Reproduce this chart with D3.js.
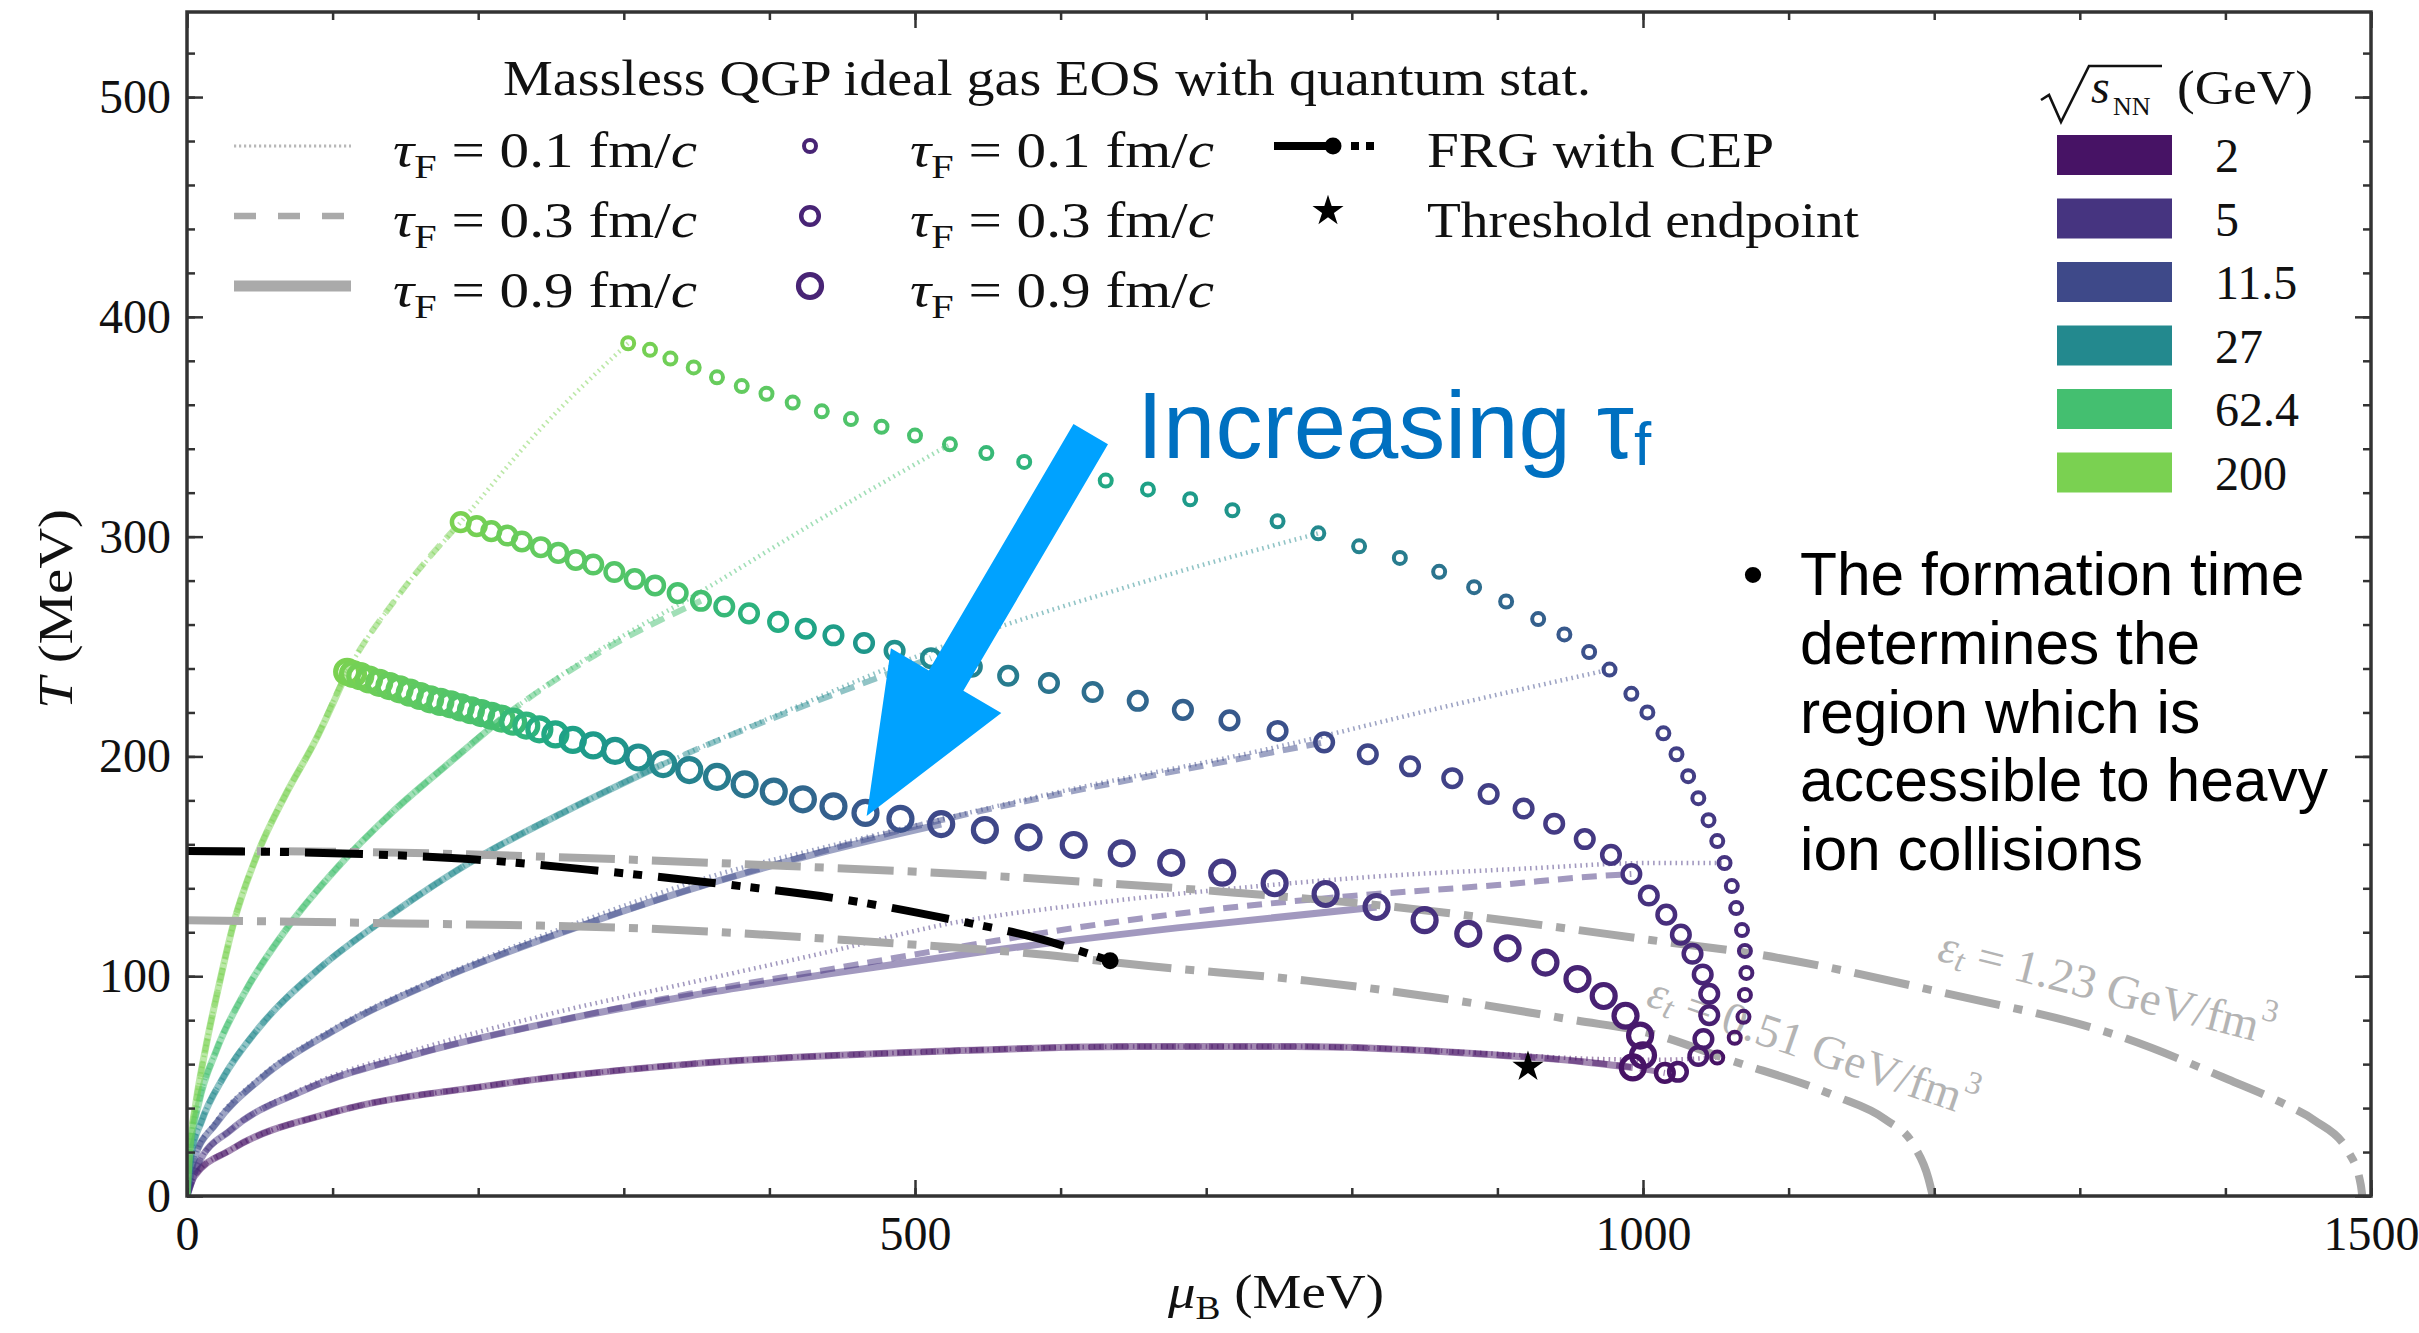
<!DOCTYPE html>
<html><head><meta charset="utf-8">
<script src="https://cdn.jsdelivr.net/npm/d3@7"></script>
<style>html,body{margin:0;padding:0;background:#fff;} svg{display:block;}</style>
</head><body>
<svg id="chart" width="2419" height="1333"></svg>
<script>
// ---------------- DATA ----------------
const energies = ["2", "5", "11.5", "27", "62.4", "200"];
const tauValues = ["0.1", "0.3", "0.9"];
const xTicks = [0, 500, 1000, 1500];
const yTicks = [0, 100, 200, 300, 400, 500];

// formation points (muB MeV, T MeV) for each formation time
const markersTau01 = [[303,388],[318,385],[332,381],[348,377],[364,372.5],[381,368.5],[398,365],[416,361],[436,357],[456,353.5],[477,350],[500,346],[524,342],[549,338],[575,334],[602,330],[631,325.5],[660,321.5],[689,317],[718,312],[749,307],[777,301.5],[805,295.6],[833,290.3],[860,284],[884,277],[906,270.5],[928,262.5],[946,255.5],[963,247.5],[977,239.5],[992,228.5],[1003,220],[1014,210.5],[1023,201],[1031,191],[1038,181],[1045,171],[1051,161.5],[1056,151.5],[1061,141],[1064,131],[1068,121],[1070,111.5],[1071,101.5],[1070,91.5],[1069,81.5],[1063,72],[1051,63]];
const markersTau03 = [[188,306.6],[199,304.8],[209,302.5],[220,300.5],[230,297.8],[243,295.2],[255,292.6],[267,289.4],[279,287.3],[293.5,283.9],[307.5,280.7],[321.5,277.8],[337,274.3],[353,270.8],[369,268.2],[386,265.1],[406,261.2],[425,258.1],[444,255.1],[465,251.6],[486,248.1],[511,244.7],[539,240.8],[564,236.7],[592,233.4],[622,229.3],[653,225.3],[684,221.2],[716,216.4],[749,211.6],[781,206.4],[811,201],[840,195.5],[869,190.1],[894,182.9],[918,176.3],[939,169.4],[960,162.4],[978,155.2],[992,146.5],[1004,136.7],[1016,128],[1026,118.9],[1034,110.2],[1041,100.8],[1045.5,92],[1045.5,82.3],[1041.5,71.4],[1038,63.7],[1024,56.5],[1015,56]];
const markersTau09 = [[110,238.5],[114,237.5],[119,236.5],[125,235],[132,233.5],[139,232],[146,230.5],[153,229],[160,227.5],[167,226],[174,224.8],[181,223.7],[188,222.3],[195,221],[202,219.7],[209,218.5],[216,217.2],[224,215.8],[233,214],[242,212.3],[253,210],[265,207.5],[279,205],[294,202.5],[310,199.5],[327,196.5],[345,193.8],[364,190.7],[383,187.3],[403,184],[423,180.5],[444,177.3],[466,174.3],[490,171.6],[518,169.2],[548,166.5],[578,163.2],[609,159.7],[642,155.9],[676,151.6],[711,147.1],[747,142.3],[782,137.4],[817,131.5],[850,125.5],[880,119.3],[907,112.7],[933,106.2],[955,98.7],[973,91],[988,82],[998,73],[1000,64],[993,58.5]];

// trajectories, one per energy (order of `energies`)
const trajTau09 = [
  [[0,0],[5,9],[30,21],[100,38],[205,50],[345,60],[524,66],[650,68],[760,68],[892,64.5],[960,61],[993,58.5]],
  [[0,0],[8,15],[30,30],[80,48],[160,65],[250,79],[345,91],[440,101],[545,111],[680,122],[817,131.5]],
  [[0,0],[5,17],[20,33],[50,53],[100,75],[175,99],[275,124],[363,143],[440,157],[518,169.2]],
  [[0,0],[3,19],[10,34],[25,54],[50,77],[90,103],[140,128],[200,154],[260,175],[327,196.5]],
  [[0,0],[2,20],[8,42],[20,66],[40,93],[70,123],[104,150],[140,174],[180,197],[216,217.2]],
  [[0,0],[2,22],[6,42],[13,68],[22,96],[32,124],[48,155],[68,183],[88,207],[110,238.5]]
];
const trajTau03 = [
  [[0,0],[5,9],[30,21],[100,38],[205,50],[345,60],[524,66],[650,68],[760,68],[892,64.5],[960,61],[993,58.5],[1015,56]],
  [[0,0],[8,15],[30,30],[80,48],[160,65],[250,79],[345,92],[440,103],[545,115],[610,122],[700,130],[800,136.5],[900,141.5],[968,145.5],[992,146.5]],
  [[0,0],[5,17],[20,33],[50,53],[100,75],[175,99],[275,124],[363,143],[440,157.5],[518,171],[600,183],[700,196],[781,206.4]],
  [[0,0],[3,19],[10,34],[25,54],[50,77],[90,103],[140,128],[200,154],[260,175],[327,196.5],[420,222],[511,244.7]],
  [[0,0],[2,20],[8,42],[20,66],[40,93],[70,123],[104,150],[140,174],[180,197],[216,217.2],[280,246],[353,270.8]],
  [[0,0],[2,22],[6,42],[13,68],[22,96],[32,124],[48,155],[68,183],[88,207],[110,238.5],[145,273],[188,306.6]]
];
const trajTau01 = [
  [[0,0],[5,9],[30,21],[100,38],[205,50],[345,60],[524,66],[650,68],[760,68],[892,65],[960,62.5],[1010,62],[1051,63]],
  [[0,0],[8,15],[30,30],[80,49],[160,67],[250,83],[345,97],[440,111],[524,124],[620,133],[720,140],[820,145.5],[920,149],[1005,151.5],[1056,151.5]],
  [[0,0],[5,17],[20,34],[50,54],[100,76],[175,100],[275,126],[363,146],[440,159],[490,167],[600,184],[740,203],[860,222],[977,239.5]],
  [[0,0],[3,19],[10,34],[25,54],[50,77],[90,103],[140,128],[200,154],[260,175],[327,196.5],[420,223],[511,248],[640,276],[777,301.5]],
  [[0,0],[2,20],[8,42],[20,66],[40,93],[70,123],[104,150],[140,174],[180,197],[216,217.2],[280,247],[353,275],[430,306],[524,342]],
  [[0,0],[2,22],[6,42],[13,68],[22,96],[32,124],[48,155],[68,183],[88,207],[110,238.5],[145,273],[188,306.6],[240,347],[303,388]]
];

const frgLine = [[0,157],[100,156],[200,153],[275,148.5],[380,141],[450,135],[531,125],[580,118],[634,107]];
const cepPoint = [634,107];
const thresholdEndpoint = [921,58.8];
const eps123Line = [[0,157],[120,156.5],[240,154.5],[400,150.5],[544,146],[616,143],[720,138],[830,131.5],[922,124],[1005,116.5],[1078,110],[1206,92.5],[1328,72.5],[1402,53],[1440,42],[1461,34.5],[1485,19.5],[1493,5],[1494,0]];
const eps051Line = [[0,125.5],[150,124],[310,121.8],[485,115],[585,110],[662,104.5],[769,98],[861,90],[953,80],[1005,74],[1059,62],[1132,45.5],[1166,35],[1186,23],[1196,8],[1199,0]];
const epsLabels = ["1.23", "0.51"];
const bulletLines = ["The formation time", "determines the", "region which is", "accessible to heavy", "ion collisions"];

// ---------------- STYLE ----------------
const energyViridis = [0.05, 0.15, 0.22, 0.47, 0.7, 0.8];
const serif = '"Liberation Serif","Times New Roman",serif';
const sans = '"Liberation Sans",Arial,Helvetica,sans-serif';
const markerStyle = [ {r:6, sw:4}, {r:8.8, sw:4.5}, {r:11.5, sw:5.2} ];
const trajStyle = [ {w:4.5, dash:"1.6,4"}, {w:6, dash:"15,9"}, {w:7, dash:null} ];

const svg = d3.select("#chart");
const x = d3.scaleLinear().domain([0,1500]).range([187,2371]);
const y = d3.scaleLinear().domain([0,538.7]).range([1196,12]);
const vir = d3.interpolateViridis;

svg.append("defs").append("clipPath").attr("id","pc").append("rect")
  .attr("x",187).attr("y",12).attr("width",2184).attr("height",1184);
const plot = svg.append("g").attr("clip-path","url(#pc)");

const line = d3.line().x(d=>x(d[0])).y(d=>y(d[1])).curve(d3.curveMonotoneX);

function richText(g, px, py, parts, size, opts={}) {
  const t = g.append("text").attr("x",px).attr("y",py)
    .attr("font-family", opts.family || serif).attr("font-size",size)
    .attr("fill", opts.fill || "#111");
  if (opts.anchor) t.attr("text-anchor", opts.anchor);
  if (opts.len) t.attr("textLength", opts.len).attr("lengthAdjust","spacingAndGlyphs");
  if (opts.transform) t.attr("transform", opts.transform);
  if (opts.baseline) t.attr("dominant-baseline", opts.baseline);
  let shift = 0;
  parts.forEach(p => {
    const target = p.sub ? size*0.22 : (p.sup ? -size*0.38 : 0);
    const s = t.append("tspan").text(p.t).attr("dy", target - shift);
    shift = target;
    if (p.sub || p.sup) s.attr("font-size", size*0.68);
    if (p.it) s.attr("font-style","italic");
  });
  return t;
}

// ---- trajectories ----
[trajTau01, trajTau03, trajTau09].forEach((set, k) => {
  set.forEach((path, e) => {
    plot.append("path").attr("d", line(path))
      .attr("fill","none").attr("stroke", vir(energyViridis[e]))
      .attr("stroke-width", trajStyle[k].w)
      .attr("stroke-dasharray", trajStyle[k].dash)
      .attr("stroke-opacity", 0.5);
  });
});

// ---- energy density lines ----
[eps123Line, eps051Line].forEach(d => {
  plot.append("path").attr("d", line(d)).attr("fill","none")
    .attr("stroke","#a8a8a8").attr("stroke-width",8)
    .attr("stroke-dasharray","56,14,9,14");
});

const epsLabelPos = [[1318.7,95.1,14.3],[1116.8,68.2,19]];
epsLabels.forEach((v,i) => {
  const p = epsLabelPos[i];
  richText(plot, 0, 0, [{t:"ε",it:true},{t:"t",sub:true,it:true},{t:" = "+v+" GeV/fm"},{t:"3",sup:true}], 47,
    {fill:"#b4b4b4", anchor:"middle", baseline:"central", len:345,
     transform:`translate(${x(p[0])},${y(p[1])}) rotate(${p[2]})`});
});

// ---- FRG line ----
plot.append("path").attr("d", line(frgLine)).attr("fill","none")
  .attr("stroke","#000").attr("stroke-width",8)
  .attr("stroke-dasharray","58,16,9,10,9,16");

// ---- markers ----
function markerColors(series, trajs) {
  const pairs = trajs.map((p,k) => {
    const e = p[p.length-1];
    const i = d3.minIndex(series, m => (m[0]-e[0])**2 + (m[1]-e[1])**2);
    return [i, energyViridis[k]];
  }).sort((a,b)=>a[0]-b[0]);
  const s = d3.scaleLinear().domain(pairs.map(p=>p[0])).range(pairs.map(p=>p[1])).clamp(true);
  return series.map((_,i)=>vir(s(i)));
}
[[markersTau01,trajTau01],[markersTau03,trajTau03],[markersTau09,trajTau09]].forEach(([ser,tr],k) => {
  const cols = markerColors(ser, tr);
  plot.append("g").selectAll("circle").data(ser).join("circle")
    .attr("cx", d=>x(d[0])).attr("cy", d=>y(d[1]))
    .attr("r", markerStyle[k].r).attr("fill","none")
    .attr("stroke", (d,i)=>cols[i]).attr("stroke-width", markerStyle[k].sw);
});

plot.append("circle").attr("cx",x(cepPoint[0])).attr("cy",y(cepPoint[1])).attr("r",8.5).attr("fill","#000");
const star = d3.symbol().type(d3.symbolStar).size(300);
plot.append("path").attr("d", star()).attr("fill","#000")
  .attr("transform",`translate(${x(thresholdEndpoint[0])},${y(thresholdEndpoint[1])})`);

// ---- axes ----
const axStyle = g => {
  g.select(".domain").remove();
  g.selectAll(".tick line").attr("stroke","#333").attr("stroke-width",2.5);
  g.selectAll(".tick text").attr("font-family",serif).attr("font-size",48).attr("fill","#111");
};
const minorX = d3.range(0,1501,100), minorY = d3.range(0,539,20);
svg.append("g").attr("transform","translate(0,1196)")
  .call(d3.axisBottom(x).tickValues(minorX).tickSize(-8).tickFormat("")).call(axStyle);
svg.append("g").attr("transform","translate(0,1196)")
  .call(d3.axisBottom(x).tickValues(xTicks).tickSize(-16).tickPadding(20).tickFormat(d3.format("d"))).call(axStyle);
svg.append("g").attr("transform","translate(0,12)")
  .call(d3.axisTop(x).tickValues(minorX).tickSize(-8).tickFormat("")).call(axStyle);
svg.append("g").attr("transform","translate(0,12)")
  .call(d3.axisTop(x).tickValues(xTicks).tickSize(-16).tickFormat("")).call(axStyle);
svg.append("g").attr("transform","translate(187,0)")
  .call(d3.axisLeft(y).tickValues(minorY).tickSize(-8).tickFormat("")).call(axStyle);
svg.append("g").attr("transform","translate(187,0)")
  .call(d3.axisLeft(y).tickValues(yTicks).tickSize(-16).tickPadding(16).tickFormat(d3.format("d"))).call(axStyle);
svg.append("g").attr("transform","translate(2371,0)")
  .call(d3.axisRight(y).tickValues(minorY).tickSize(-8).tickFormat("")).call(axStyle);
svg.append("g").attr("transform","translate(2371,0)")
  .call(d3.axisRight(y).tickValues(yTicks).tickSize(-16).tickFormat("")).call(axStyle);

svg.append("rect").attr("x",187).attr("y",12).attr("width",2184).attr("height",1184)
  .attr("fill","none").attr("stroke","#333").attr("stroke-width",3.5);

richText(svg, 1276, 1308, [{t:"μ",it:true},{t:"B",sub:true},{t:" (MeV)"}], 48, {anchor:"middle", len:216});
richText(svg, 0, 0, [{t:"T",it:true},{t:" (MeV)"}], 48, {anchor:"middle", len:200, transform:"translate(72,609) rotate(-90)"});

// ---- legend (formation times) ----
const leg = svg.append("g");
richText(leg, 503, 95, [{t:"Massless QGP ideal gas EOS with quantum stat."}], 50, {len:1088});
const rowY = [146, 216, 286];
const legLineStyles = [
  {w:3, dash:"2.2,2.8", c:"#b8b8b8"},
  {w:6.5, dash:"22,22", c:"#aaaaaa"},
  {w:11, dash:null, c:"#aaaaaa"}
];
tauValues.forEach((tv,i) => {
  const s = legLineStyles[i];
  leg.append("line").attr("x1",234).attr("x2",351).attr("y1",rowY[i]).attr("y2",rowY[i])
    .attr("stroke",s.c).attr("stroke-width",s.w).attr("stroke-dasharray",s.dash);
  richText(leg, 393, rowY[i]+21, [{t:"τ",it:true},{t:"F",sub:true},{t:" = "+tv+" fm/"},{t:"c",it:true}], 50, {len:304});
  leg.append("circle").attr("cx",810).attr("cy",rowY[i]).attr("r",markerStyle[i].r)
    .attr("fill","none").attr("stroke",vir(0.1)).attr("stroke-width",markerStyle[i].sw);
  richText(leg, 910, rowY[i]+21, [{t:"τ",it:true},{t:"F",sub:true},{t:" = "+tv+" fm/"},{t:"c",it:true}], 50, {len:304});
});
leg.append("line").attr("x1",1274).attr("x2",1376).attr("y1",rowY[0]).attr("y2",rowY[0])
  .attr("stroke","#000").attr("stroke-width",8).attr("stroke-dasharray","54,23,8,7,8,100");
leg.append("circle").attr("cx",1333).attr("cy",rowY[0]).attr("r",8.5).attr("fill","#000");
richText(leg, 1427, rowY[0]+21, [{t:"FRG with CEP"}], 50, {len:347});
leg.append("path").attr("d", star()).attr("fill","#000").attr("transform",`translate(1328,${rowY[1]-5})`);
richText(leg, 1427, rowY[1]+21, [{t:"Threshold endpoint"}], 50, {len:432});

// ---- legend (energies) ----
const eleg = svg.append("g");
eleg.append("path").attr("d","M2041,100 L2049,95 L2061,122 L2089,66 L2162,66")
  .attr("fill","none").attr("stroke","#111").attr("stroke-width",2.6);
eleg.append("text").attr("x",2091).attr("y",103).attr("font-family",serif).attr("font-style","italic")
  .attr("font-size",48).attr("fill","#111").text("s");
eleg.append("text").attr("x",2113).attr("y",115).attr("font-family",serif)
  .attr("font-size",26).attr("fill","#111").text("NN");
richText(eleg, 2177, 104, [{t:"(GeV)"}], 48, {len:136});
const swTop = [135, 198.5, 262, 325.5, 389, 452.5];
energies.forEach((e,i) => {
  eleg.append("rect").attr("x",2057).attr("y",swTop[i]).attr("width",115).attr("height",40)
    .attr("fill", vir(energyViridis[i]));
  eleg.append("text").attr("x",2215).attr("y",swTop[i]+37).attr("font-family",serif)
    .attr("font-size",48).attr("fill","#111").text(e);
});

// ---- annotations ----
const arrowTail = [620.7, 346.6], arrowTip = [466.8, 172.9];
(function(){
  const a = [x(arrowTail[0]), y(arrowTail[1])], b = [x(arrowTip[0]), y(arrowTip[1])];
  const dx = b[0]-a[0], dy = b[1]-a[1], L = Math.hypot(dx,dy);
  const u = [dx/L, dy/L], n = [-u[1], u[0]];
  const hw = 20, hh = 64, hl = 157;
  const base = [b[0]-u[0]*hl, b[1]-u[1]*hl];
  const P = (p,s,w)=>[p[0]+n[0]*s*w, p[1]+n[1]*s*w];
  const pts = [P(a,1,hw), P(base,1,hw), P(base,1,hh), b, P(base,-1,hh), P(base,-1,hw), P(a,-1,hw)];
  svg.append("polygon").attr("points", pts.map(p=>p.join(",")).join(" ")).attr("fill","#00a2ff");
})();

const inc = svg.append("text").attr("x",1137).attr("y",458).attr("font-family",sans)
  .attr("font-size",94).attr("fill","#0070c0");
inc.append("tspan").text("Increasing τ");
inc.append("tspan").text("f").attr("font-size",62).attr("dy",7);

svg.append("text").attr("x",1753).attr("y",595).attr("font-family",sans).attr("font-size",60)
  .attr("text-anchor","middle").attr("fill","#000").text("•");
bulletLines.forEach((t,i) => {
  svg.append("text").attr("x",1800).attr("y",595 + i*68.8).attr("font-family",sans)
    .attr("font-size",60.5).attr("fill","#000").text(t);
});
</script>
</body></html>
